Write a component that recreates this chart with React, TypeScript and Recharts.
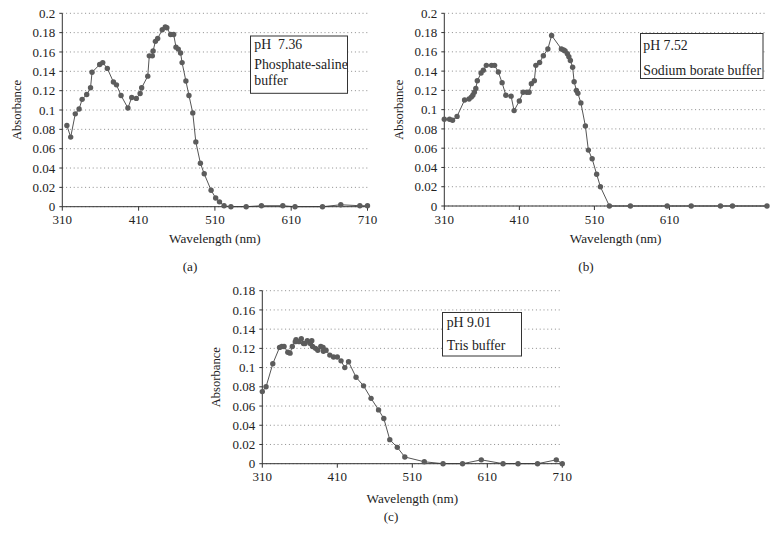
import React from 'react';
import { LineChart, Line, XAxis, YAxis, CartesianGrid, Label } from 'recharts';

// ---------- Panel (a): pH 7.36, phosphate-saline buffer ----------
const waveA = [316, 321, 327, 332, 336, 342, 347, 349, 359, 363, 369, 377, 381, 387, 396, 401, 407, 412, 414, 422, 424, 428, 429, 432, 435, 441, 445, 447, 452, 456, 459, 462, 465, 467, 472, 476, 481, 485, 491, 496, 505, 511, 516, 522, 531, 551, 571, 599, 615, 651, 675, 700, 710];
const absA = [0.084, 0.072, 0.096, 0.101, 0.111, 0.116, 0.123, 0.139, 0.147, 0.149, 0.143, 0.129, 0.126, 0.115, 0.102, 0.113, 0.112, 0.117, 0.123, 0.135, 0.156, 0.156, 0.161, 0.171, 0.174, 0.183, 0.186, 0.185, 0.178, 0.178, 0.165, 0.163, 0.159, 0.149, 0.13, 0.115, 0.097, 0.067, 0.045, 0.034, 0.017, 0.009, 0.005, 0.001, 0, 0, 0.001, 0.001, 0, 0, 0.002, 0.001, 0.001];

// ---------- Panel (b): pH 7.52, sodium borate buffer ----------
const waveB = [310, 317, 321, 327, 337, 343, 346, 348, 350, 352, 354, 359, 362, 366, 373, 377, 382, 387, 392, 399, 403, 410, 415, 420, 423, 426, 430, 432, 437, 442, 448, 453, 466, 469, 471, 474, 476, 478, 481, 483, 486, 488, 492, 498, 502, 507, 513, 518, 530, 558, 607, 639, 678, 694, 740];
const absB = [0.09, 0.09, 0.089, 0.093, 0.11, 0.111, 0.113, 0.115, 0.118, 0.122, 0.13, 0.138, 0.141, 0.146, 0.146, 0.146, 0.139, 0.128, 0.115, 0.114, 0.099, 0.109, 0.118, 0.118, 0.118, 0.127, 0.13, 0.146, 0.149, 0.156, 0.163, 0.177, 0.163, 0.162, 0.161, 0.158, 0.155, 0.151, 0.144, 0.129, 0.12, 0.117, 0.107, 0.083, 0.058, 0.049, 0.033, 0.02, 0, 0, 0, 0, 0, 0, 0];

// ---------- Panel (c): pH 9.01, Tris buffer ----------
const waveC = [310, 315, 324, 333, 336, 339, 344, 347, 350, 354, 355, 359, 362, 365, 367, 370, 374, 376, 377, 381, 384, 388, 391, 391.5, 395, 400, 405, 410, 415, 420, 425, 435, 445, 455, 465, 472, 480, 490, 500, 526, 551, 577, 602, 631, 651, 677, 702, 710];
const absC = [0.075, 0.08, 0.104, 0.121, 0.122, 0.122, 0.116, 0.115, 0.122, 0.127, 0.129, 0.127, 0.13, 0.125, 0.125, 0.128, 0.125, 0.128, 0.122, 0.12, 0.118, 0.122, 0.121, 0.117, 0.118, 0.113, 0.111, 0.111, 0.107, 0.1, 0.106, 0.09, 0.081, 0.068, 0.056, 0.047, 0.025, 0.017, 0.007, 0.002, 0, 0, 0.004, 0, 0, 0, 0.004, 0];

// ---------- Axes ----------
const xTicksA = [310, 410, 510, 610, 710];
const xTicksB = [310, 410, 510, 610];
const xTicksC = [310, 410, 510, 610, 710];
const yTicksAB = [0, 0.02, 0.04, 0.06, 0.08, 0.1, 0.12, 0.14, 0.16, 0.18, 0.2];
const yTicksC = [0, 0.02, 0.04, 0.06, 0.08, 0.1, 0.12, 0.14, 0.16, 0.18];

const xTitle = 'Wavelength (nm)';
const yTitle = 'Absorbance';
const captionA = ['pH  7.36', 'Phosphate-saline', 'buffer'];
const captionB = ['pH 7.52', 'Sodium borate buffer'];
const captionC = ['pH 9.01', 'Tris buffer'];
const panelLetters = ['(a)', '(b)', '(c)'];

const FONT = '"Liberation Serif", "Times New Roman", "DejaVu Serif", serif';
const TXT = '#222';

const toRows = (xs: number[], ys: number[]) => xs.map((x, i) => ({ x, y: ys[i] }));
const fmtY = (v: number) => String(Number(v.toFixed(2)));

type PanelProps = {
  left: number; top: number; width: number; height: number;
  margin: { top: number; right: number; bottom: number; left: number };
  data: { x: number; y: number }[];
  xDomain: [number, number]; xTicks: number[];
  yDomain: [number, number]; yTicks: number[];
  xLabelOffset: number; xLabelDx: number; yLabelOffset: number;
};

function Panel(p: PanelProps) {
  return (
    <div style={{ position: 'absolute', left: p.left, top: p.top }}>
      <LineChart width={p.width} height={p.height} data={p.data} margin={p.margin}>
        <CartesianGrid vertical={false} stroke="#8c8c8c" strokeDasharray="1 2.8" />
        <XAxis
          dataKey="x"
          type="number"
          domain={p.xDomain}
          ticks={p.xTicks}
          interval={0}
          height={40}
          tickSize={4}
          tickMargin={4.5}
          axisLine={{ stroke: '#333' }}
          tickLine={{ stroke: '#333' }}
          tick={{ fill: TXT, fontSize: 13, fontFamily: FONT }}
        >
          <Label
            value={xTitle}
            position="insideBottom"
            offset={p.xLabelOffset}
            dx={p.xLabelDx}
            style={{ fontSize: 13.2, fontFamily: FONT, fill: TXT }}
          />
        </XAxis>
        <YAxis
          type="number"
          domain={p.yDomain}
          ticks={p.yTicks}
          interval={0}
          width={50}
          tickSize={3}
          tickMargin={4}
          tickFormatter={fmtY}
          axisLine={{ stroke: '#333' }}
          tickLine={{ stroke: '#333' }}
          tick={{ fill: TXT, fontSize: 13, fontFamily: FONT }}
        >
          <Label
            value={yTitle}
            angle={-90}
            position="insideLeft"
            offset={p.yLabelOffset}
            style={{ textAnchor: 'middle', fontSize: 12.6, fontFamily: FONT, fill: TXT }}
          />
        </YAxis>
        <Line
          dataKey="y"
          type="linear"
          stroke="#555"
          strokeWidth={1}
          dot={{ r: 2.7, fill: '#5c5c5c', stroke: 'none' }}
          activeDot={false}
          isAnimationActive={false}
        />
      </LineChart>
    </div>
  );
}

const capStyle = { fontSize: 13.8, fontFamily: FONT, fill: TXT, whiteSpace: 'pre' } as const;
const letterStyle = { fontSize: 13.2, fontFamily: FONT, fill: TXT } as const;

export default function App() {
  return (
    <div style={{ position: 'absolute', left: 0, top: 0, width: 782, height: 550, background: '#fff', overflow: 'hidden' }}>
      <Panel
        left={0} top={0} width={380} height={260}
        margin={{ top: 13.3, right: 12.5, bottom: 13.3, left: 12.3 }}
        data={toRows(waveA, absA)}
        xDomain={[310, 710]} xTicks={xTicksA}
        yDomain={[0, 0.2]} yTicks={yTicksAB}
        xLabelOffset={3.7} xLabelDx={0} yLabelOffset={4.5}
      />
      <Panel
        left={385} top={0} width={397} height={260}
        margin={{ top: 13.3, right: 15, bottom: 14, left: 9.3 }}
        data={toRows(waveB, absB)}
        xDomain={[310, 740]} xTicks={xTicksB}
        yDomain={[0, 0.2]} yTicks={yTicksAB}
        xLabelOffset={3} xLabelDx={10} yLabelOffset={4.4}
      />
      <Panel
        left={200} top={270} width={380} height={260}
        margin={{ top: 20.7, right: 17.7, bottom: 26.3, left: 12.3 }}
        data={toRows(waveC, absC)}
        xDomain={[310, 710]} xTicks={xTicksC}
        yDomain={[0, 0.18]} yTicks={yTicksC}
        xLabelOffset={1.2} xLabelDx={0} yLabelOffset={3.4}
      />
      <svg width={782} height={550} style={{ position: 'absolute', left: 0, top: 0, pointerEvents: 'none' }}>
        <rect x={250.5} y={36} width={97} height={57.3} fill="#fff" stroke="#333" strokeWidth={1} />
        <text x={254.3} y={49} xmlSpace="preserve" style={capStyle}>{captionA[0]}</text>
        <text x={254.3} y={69} style={capStyle}>{captionA[1]}</text>
        <text x={254.3} y={84.5} style={capStyle}>{captionA[2]}</text>

        <rect x={640.5} y={33.5} width={122.5} height={45} fill="#fff" stroke="#333" strokeWidth={1} />
        <text x={643.3} y={50} style={capStyle}>{captionB[0]}</text>
        <text x={643.3} y={74.5} style={capStyle}>{captionB[1]}</text>

        <rect x={442.5} y={312.5} width={79} height={43.5} fill="#fff" stroke="#333" strokeWidth={1} />
        <text x={446.7} y={327.2} style={capStyle}>{captionC[0]}</text>
        <text x={446.7} y={349.5} style={capStyle}>{captionC[1]}</text>

        <text x={190} y={271} textAnchor="middle" style={letterStyle}>{panelLetters[0]}</text>
        <text x={586} y={271} textAnchor="middle" style={letterStyle}>{panelLetters[1]}</text>
        <text x={391} y={521} textAnchor="middle" style={letterStyle}>{panelLetters[2]}</text>
      </svg>
    </div>
  );
}
